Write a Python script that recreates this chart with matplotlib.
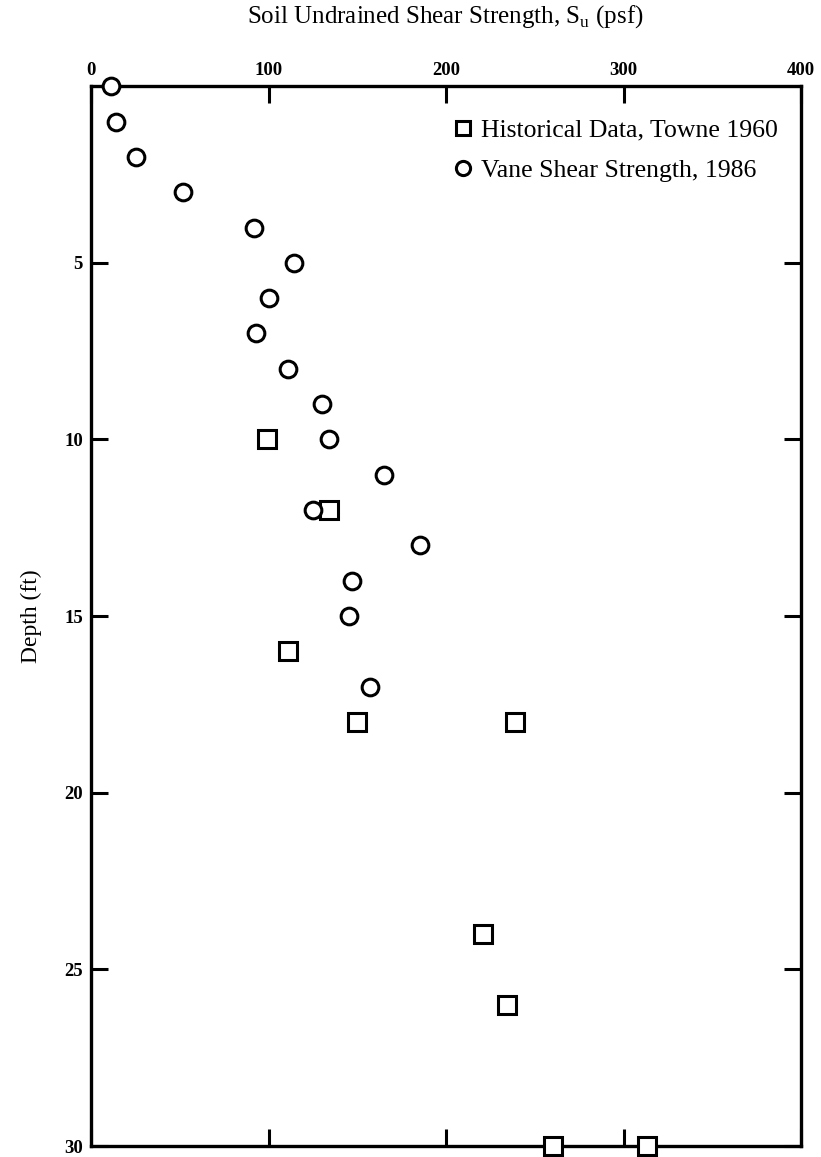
import numpy as np
import matplotlib.pyplot as plt

# Vane shear strength, 1986
vane_su = [11, 14, 25, 52, 92, 114, 100, 93, 111, 130, 134, 165, 125, 185, 147, 145, 157]
vane_depth = [0, 1, 2, 3, 4, 5, 6, 7, 8, 9, 10, 11, 12, 13, 14, 15, 17]

# Historical data, Towne 1960
hist_su = [99, 134, 111, 150, 239, 221, 234, 260, 313]
hist_depth = [10, 12, 16, 18, 18, 24, 26, 30, 30]

xticks = [0, 100, 200, 300, 400]
yticks = [5, 10, 15, 20, 25, 30]

plt.rcParams['font.family'] = ['Liberation Serif', 'DejaVu Serif']

fig = plt.figure(figsize=(8.21, 11.57), dpi=100)
ax = fig.add_axes([0.111, 0.0095, 0.865, 0.916])

ax.plot(hist_su, hist_depth, 's', ms=12.5, mfc='white', mec='black', mew=2.2,
        clip_on=False, label='Historical Data, Towne 1960', zorder=3)
ax.plot(vane_su, vane_depth, 'o', ms=12, mfc='white', mec='black', mew=2.2,
        clip_on=False, label='Vane Shear Strength, 1986', zorder=3)

ax.set_xlim(0, 400)
ax.set_ylim(30, 0)

ax.xaxis.tick_top()
ax.set_xticks(xticks)
ax.set_xticklabels([str(v) for v in xticks], fontsize=13.5, fontweight='bold')
ax.set_yticks(yticks)
ax.set_yticklabels([str(v) for v in yticks], fontsize=13.5, fontweight='bold')
ax.tick_params(axis='x', direction='in', length=12, width=2.2, top=True, bottom=True, pad=5)
ax.tick_params(axis='y', direction='in', length=12, width=2.2, left=True, right=True, pad=6)
for s in ax.spines.values():
    s.set_linewidth(2.4)

ax.set_ylabel('Depth (ft)', fontsize=17, labelpad=16)
fig.text(0.542, 0.986, r'Soil Undrained Shear Strength, S$_\mathregular{u}$ (psf)',
         ha='center', va='center', fontsize=18)

leg = ax.legend(loc='upper right', bbox_to_anchor=(1.0, 0.991), frameon=False,
                fontsize=18.5, handletextpad=0.2, labelspacing=0.68,
                handlelength=1.0, markerscale=0.85)

fig.savefig('out.png', dpi=100)
